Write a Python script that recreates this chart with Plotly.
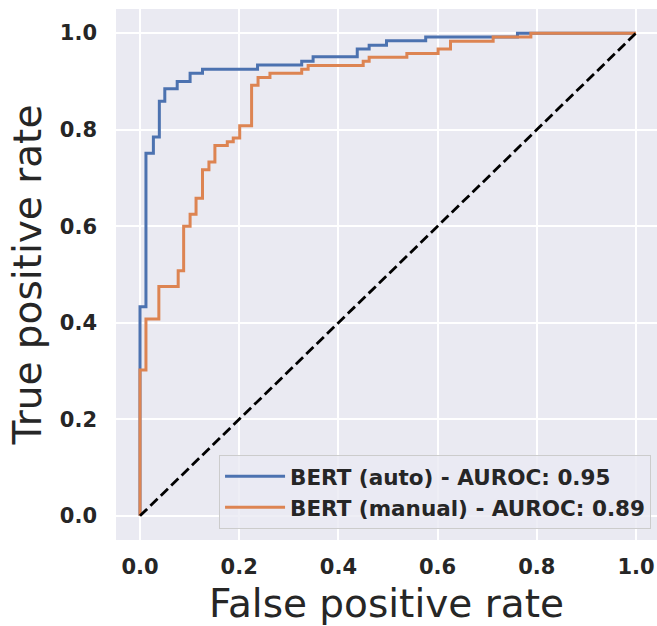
import plotly.graph_objects as go

# ROC corner points (step curve drawn vertical-then-horizontal)
fpr_auto = [0, 0.012, 0.027, 0.039, 0.050, 0.075, 0.101, 0.126, 0.237, 0.326,
            0.349, 0.438, 0.462, 0.497, 0.576, 0.761, 1.0]
tpr_auto = [0, 0.433, 0.751, 0.785, 0.859, 0.885, 0.900, 0.917, 0.925, 0.934,
            0.942, 0.951, 0.967, 0.975, 0.984, 0.992, 1.0]

fpr_manual = [0, 0.012, 0.038, 0.077, 0.088, 0.101, 0.113, 0.126, 0.139, 0.151,
              0.176, 0.188, 0.201, 0.225, 0.238, 0.262, 0.326, 0.339, 0.450, 0.462,
              0.538, 0.601, 0.626, 0.712, 0.788, 1.0]
tpr_manual = [0, 0.302, 0.408, 0.475, 0.508, 0.600, 0.625, 0.658, 0.717, 0.733,
              0.767, 0.775, 0.783, 0.808, 0.892, 0.908, 0.917, 0.925, 0.933, 0.942,
              0.950, 0.958, 0.967, 0.983, 0.992, 1.0]

diag = [0, 1]

names = ["BERT (auto) - AUROC: 0.95", "BERT (manual) - AUROC: 0.89"]
ticks = [0.0, 0.2, 0.4, 0.6, 0.8, 1.0]
tick_text = ["0.0", "0.2", "0.4", "0.6", "0.8", "1.0"]

BLUE = "#4c72b0"
ORANGE = "#dd8452"

fig = go.Figure()
fig.add_trace(go.Scatter(x=fpr_auto, y=tpr_auto, mode="lines", name=names[0],
                         line=dict(color=BLUE, width=3, shape="vh")))
fig.add_trace(go.Scatter(x=fpr_manual, y=tpr_manual, mode="lines", name=names[1],
                         line=dict(color=ORANGE, width=3, shape="vh")))
fig.add_trace(go.Scatter(x=diag, y=diag, mode="lines", showlegend=False,
                         line=dict(color="black", width=2.8, dash="10px,4.5px")))

L, R, T, B = 116, 0, 9, 86
W, H = 657, 626
x0px, x1px = 140, 636
xr = [(L - x0px) / (x1px - x0px), (W - R - x0px) / (x1px - x0px)]

tickfont = dict(family="DejaVu Sans", size=21, color="#262626", weight="bold")
titlefont = dict(family="DejaVu Sans", size=39, color="#262626")

fig.update_layout(
    width=W, height=H, autosize=False,
    margin=dict(l=L, r=R, t=T, b=B, pad=0),
    paper_bgcolor="white", plot_bgcolor="#eaeaf2",
    showlegend=True,
    legend=dict(x=0.989, y=0.021, xanchor="right", yanchor="bottom",
                bgcolor="rgba(234,234,242,0.8)", bordercolor="#cccccc", borderwidth=1,
                font=dict(family="DejaVu Sans", size=21.5, color="#262626", weight="bold"),
                itemwidth=60, tracegroupgap=0),
    xaxis=dict(range=xr, tickvals=ticks, ticktext=tick_text, tickfont=tickfont,
               showgrid=True, gridcolor="white", gridwidth=2, zeroline=False,
               showline=False, ticks="", ticklabelstandoff=12,
               title=dict(text="False positive rate", font=titlefont, standoff=15),
               automargin=False),
    yaxis=dict(range=[-0.05, 1.05], tickvals=ticks, ticktext=tick_text, tickfont=tickfont,
               showgrid=True, gridcolor="white", gridwidth=2, zeroline=False,
               showline=False, ticks="", ticklabelstandoff=18,
               title=dict(text="True positive rate", font=titlefont, standoff=6),
               automargin=False),
)

fig.write_html("out.html")
